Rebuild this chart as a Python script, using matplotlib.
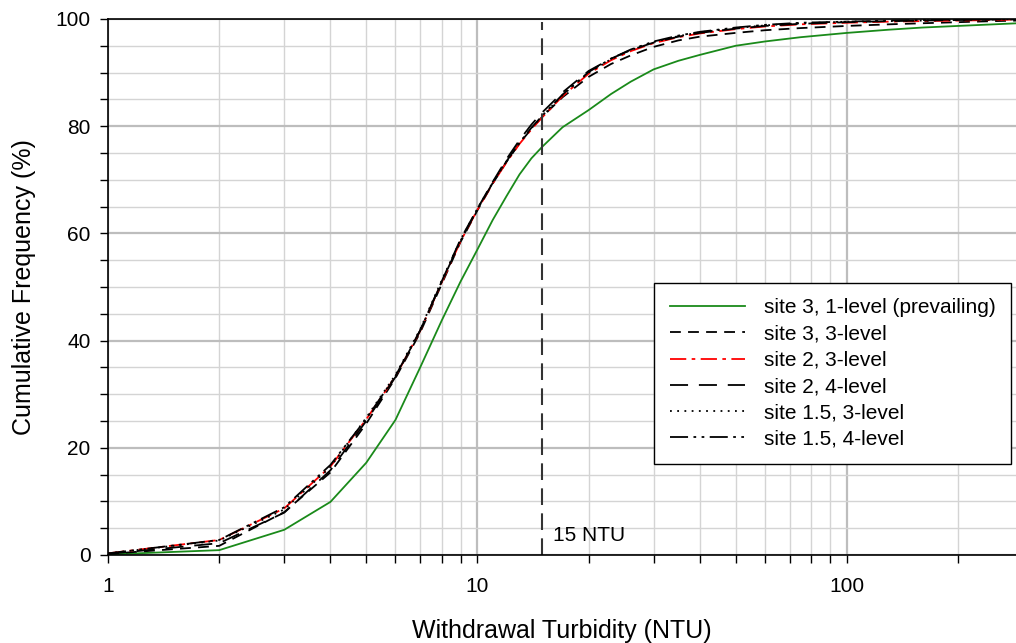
import matplotlib.pyplot as plt
from matplotlib.ticker import LogLocator, MultipleLocator, NullFormatter, FixedLocator

plt.rcParams['font.family'] = ['Liberation Sans', 'DejaVu Sans']

# ---------------- data ----------------
turbidity = [1, 2, 3, 4, 5, 6, 7, 8, 9, 10, 11, 12, 13, 14, 15, 17, 20, 23, 26,
             30, 35, 40, 50, 60, 75, 100, 130, 160, 200, 250, 290]

site3_1lvl = [0.1, 0.9, 4.7, 9.9, 17.2, 25.2, 35.0, 43.7, 51.0, 57.0, 62.5, 67.0,
              71.0, 74.0, 76.2, 79.8, 83.0, 86.0, 88.3, 90.6, 92.2, 93.3, 95.0,
              95.8, 96.6, 97.4, 98.0, 98.4, 98.7, 99.0, 99.2]
site3_3lvl = [0.2, 1.7, 8.0, 15.4, 24.5, 33.0, 41.5, 50.5, 58.4, 64.3, 69.3, 73.4,
              76.8, 79.5, 81.8, 85.4, 89.2, 91.6, 93.2, 94.8, 96.0, 96.7, 97.4,
              97.9, 98.3, 98.7, 99.0, 99.2, 99.4, 99.6, 99.7]
site2_3lvl = [0.3, 2.8, 8.7, 16.5, 25.3, 33.3, 41.8, 50.8, 58.5, 64.4, 69.3, 73.3,
              76.7, 79.4, 81.7, 85.6, 89.8, 92.3, 94.0, 95.5, 96.6, 97.3, 98.1,
              98.6, 99.0, 99.3, 99.5, 99.6, 99.7, 99.8, 99.9]
site2_4lvl = [0.2, 2.2, 7.9, 15.8, 25.0, 33.2, 41.9, 51.0, 58.9, 64.6, 69.6, 73.9,
              77.4, 80.3, 82.6, 86.3, 90.3, 92.6, 94.2, 95.6, 96.7, 97.4, 98.2,
              98.7, 99.1, 99.4, 99.6, 99.7, 99.8, 99.9, 99.9]
site15_3lvl = [0.3, 2.7, 8.5, 16.4, 25.6, 33.6, 42.1, 51.2, 58.8, 64.6, 69.5, 73.5,
               76.9, 79.6, 81.9, 85.8, 90.0, 92.5, 94.2, 95.7, 96.8, 97.5, 98.3,
               98.8, 99.2, 99.5, 99.6, 99.7, 99.8, 99.9, 100.0]
site15_4lvl = [0.3, 2.8, 8.9, 16.8, 25.4, 33.4, 41.9, 50.9, 58.6, 64.5, 69.4, 73.5,
               76.9, 79.7, 82.0, 85.9, 90.1, 92.6, 94.3, 95.8, 96.9, 97.6, 98.4,
               98.9, 99.3, 99.5, 99.7, 99.8, 99.9, 99.9, 100.0]

threshold = 15

# ---------------- plot ----------------
fig = plt.figure(figsize=(10.16, 6.43), dpi=100)
ax = fig.add_axes([0.1063, 0.1369, 0.8937, 0.8336])

ax.plot(turbidity, site3_1lvl, color='#1a8a1a', lw=1.3, label='site 3, 1-level (prevailing)')
ax.plot(turbidity, site3_3lvl, color='black', lw=1.3, dashes=(6, 4), label='site 3, 3-level')
ax.plot(turbidity, site2_3lvl, color='red', lw=1.3, dashes=(9, 3, 2, 3), label='site 2, 3-level')
ax.plot(turbidity, site2_4lvl, color='black', lw=1.3, dashes=(10, 6), label='site 2, 4-level')
ax.plot(turbidity, site15_3lvl, color='black', lw=1.3, dashes=(1, 3), label='site 1.5, 3-level')
ax.plot(turbidity, site15_4lvl, color='black', lw=1.3, dashes=(10, 3, 1.5, 3, 1.5, 3),
        label='site 1.5, 4-level')

ax.axvline(threshold, color='#333333', lw=1.5, dashes=(8, 4), ymax=0.995)
ax.text(16.0, 2.6, '15 NTU', fontsize=15, va='baseline')

ax.set_xscale('log')
ax.set_xlim(1, 287)
ax.set_ylim(0, 100)

ax.xaxis.set_major_locator(FixedLocator([1, 10, 100]))
ax.xaxis.set_major_formatter(plt.FixedFormatter(['1', '10', '100']))
ax.xaxis.set_minor_locator(LogLocator(base=10, subs=range(2, 10)))
ax.xaxis.set_minor_formatter(NullFormatter())
ax.yaxis.set_major_locator(MultipleLocator(20))
ax.yaxis.set_minor_locator(MultipleLocator(5))

ax.grid(which='major', color='#bdbdbd', lw=1.6)
ax.grid(which='minor', color='#d4d4d4', lw=1.0)
ax.set_axisbelow(True)

ax.tick_params(which='both', direction='out', length=5.5, width=1, labelsize=15, color='black')
ax.tick_params(axis='x', which='both', pad=10)
ax.tick_params(axis='y', which='both', pad=7)

ax.spines['right'].set_visible(False)
for s in ['left', 'bottom', 'top']:
    ax.spines[s].set_linewidth(1.2)

ax.set_xlabel('Withdrawal Turbidity (NTU)', fontsize=18, labelpad=17)
ax.set_ylabel('Cumulative Frequency (%)', fontsize=18, labelpad=14)

leg = ax.legend(loc='upper right', bbox_to_anchor=(0.9945, 0.508), fontsize=15,
                handlelength=3.6, fancybox=False, framealpha=1, edgecolor='black',
                borderpad=0.75, labelspacing=0.35, handletextpad=0.9, borderaxespad=0)
leg.get_frame().set_linewidth(1.0)

fig.savefig('out.png', dpi=100)
